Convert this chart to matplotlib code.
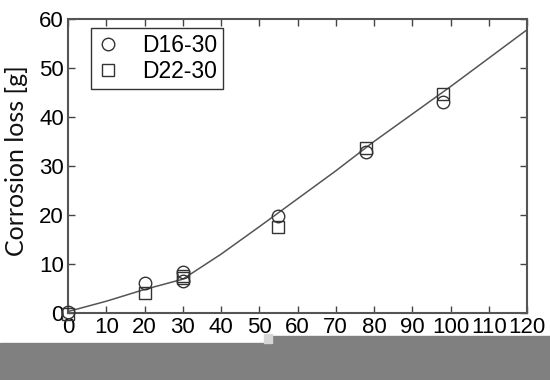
import matplotlib
matplotlib.use('Agg')
import matplotlib.pyplot as plt
from matplotlib.patches import Rectangle

# 数据
d16_x = [0, 20, 30, 30, 55, 78, 98]
d16_y = [0.3, 6.1, 8.3, 6.6, 19.7, 32.8, 43.0]
d22_x = [0, 20, 30, 30, 55, 78, 98]
d22_y = [-0.3, 4.1, 7.5, 7.1, 17.5, 33.7, 44.6]
fit_x = [0, 10, 20, 30, 40, 50, 60, 70, 80, 90, 100, 110, 120]
fit_y = [0.3, 2.4, 4.8, 6.9, 12.0, 17.6, 23.3, 29.0, 35.0, 40.6, 46.2, 52.0, 57.8]
xticks = list(range(0, 121, 10))
yticks = list(range(0, 61, 10))

fig = plt.figure(figsize=(5.5, 3.8), dpi=100)
ax = fig.add_axes([68/550, 1-313/380, (527-68)/550, (313-19)/380])

ax.plot(fit_x, fit_y, color='#555555', lw=1.1, zorder=2)
ax.plot(d16_x, d16_y, 'o', ms=9, mfc='none', mec='#333333', mew=1.0,
        label='D16-30', zorder=3, clip_on=False)
ax.plot(d22_x, d22_y, 's', ms=8, mfc='none', mec='#333333', mew=1.0,
        label='D22-30', zorder=3, clip_on=False)

ax.set_xlim(0, 120)
ax.set_ylim(0, 60)
ax.set_xticks(xticks)
ax.set_yticks(yticks)
ax.tick_params(direction='in', length=5, width=1, color='#444444',
               top=True, right=True, labelsize=16, pad=3)
for lab in ax.get_xticklabels() + ax.get_yticklabels():
    lab.set_family('Liberation Sans')
for s in ax.spines.values():
    s.set_color('#555555')
    s.set_linewidth(1.5)

# y轴标题直接放在图上
fig.text(17/550, 1-161/380, 'Corrosion loss [g]', family='Lato', fontsize=18,
         color='#111111', rotation=90, ha='center', va='center')

leg = ax.legend(loc='upper left', bbox_to_anchor=(0.05, 0.97),
                frameon=True, fancybox=False, edgecolor='black',
                prop={'family': 'Liberation Sans', 'size': 16.5},
                handlelength=1.0, handletextpad=1.0, borderpad=0.25,
                labelspacing=0.15, borderaxespad=0)
leg.get_frame().set_linewidth(1.0)

# 底部灰条
fig.patches.append(Rectangle((0, 0), 1, 1-343/380, transform=fig.transFigure,
                             color='#808080', zorder=10))
fig.patches.append(Rectangle((272/550, 0), 1-272/550, 1-336/380,
                             transform=fig.transFigure, color='#808080', zorder=10))
fig.patches.append(Rectangle((264/550, 1-343/380), 8/550, 9/380,
                             transform=fig.transFigure, color='#d6d6d6', zorder=10))

fig.savefig('out.png', dpi=100)
